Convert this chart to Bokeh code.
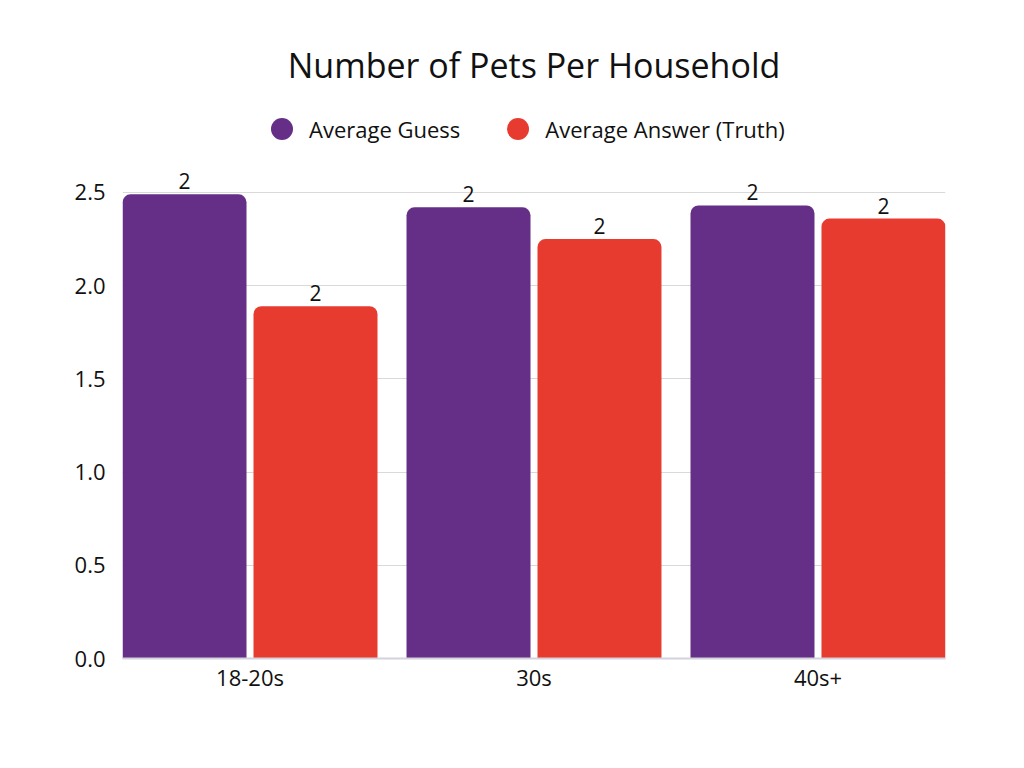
from bokeh.plotting import figure
from bokeh.models import (ColumnDataSource, Range1d, FixedTicker, Legend, LegendItem,
                          PrintfTickFormatter)
from bokeh.core.properties import value
from bokeh.embed import file_html
from bokeh.resources import INLINE

categories = ["18-20s", "30s", "40s+"]
avg_guess = [2.49, 2.42, 2.43]
avg_truth = [1.89, 2.25, 2.36]
y_ticks = [0.0, 0.5, 1.0, 1.5, 2.0, 2.5]
series_names = ["Average Guess", "Average Answer (Truth)"]
colors = ["#652F87", "#E83B30"]

FONT = "Open Sans"
xs = list(range(len(categories)))
bar_w = 0.4366
off = 0.2306

p = figure(frame_width=823, frame_height=563, output_backend="svg", toolbar_location=None,
           x_range=Range1d(-0.449, 2.449), y_range=Range1d(0, 3.02),
           min_border_left=122, min_border_right=71, min_border_bottom=100, min_border_top=95)
p.outline_line_color = None
p.background_fill_color = "white"

for vals, c, sgn in [(avg_guess, colors[0], -1), (avg_truth, colors[1], 1)]:
    src = ColumnDataSource(dict(x=[x + sgn * off for x in xs], top=vals,
                                lab=[f"{round(v)}" for v in vals]))
    p.vbar(x="x", top="top", width=bar_w, bottom=0, source=src, fill_color=c,
           line_color=None, border_radius=(8, 8, 0, 0))
    p.text(x="x", y="top", text="lab", source=src, text_align="center", text_baseline="bottom",
           y_offset=-5, text_font_size="21px", text_font=value(FONT), text_color="#111111")

p.yaxis.ticker = FixedTicker(ticks=y_ticks)
p.yaxis.formatter = PrintfTickFormatter(format="%.1f")
p.yaxis.axis_line_color = None
p.yaxis.major_tick_line_color = None
p.yaxis.minor_tick_line_color = None
p.yaxis.major_label_text_font = FONT
p.yaxis.major_label_text_font_size = "22px"
p.yaxis.major_label_text_color = "#111111"
p.yaxis.major_label_standoff = 11

p.xaxis.ticker = FixedTicker(ticks=xs)
p.xaxis.major_label_overrides = {i: c for i, c in enumerate(categories)}
p.xaxis.axis_line_color = "#d4d2dc"
p.xaxis.axis_line_width = 2
p.xaxis.major_tick_line_color = None
p.xaxis.minor_tick_line_color = None
p.xaxis.major_label_text_font = FONT
p.xaxis.major_label_text_font_size = "22px"
p.xaxis.major_label_text_color = "#111111"
p.xaxis.major_label_standoff = -3

p.xgrid.grid_line_color = None
p.ygrid.grid_line_color = "#d9d9d9"

r1 = p.scatter(x=[-10], y=[-10], marker="circle", size=22, fill_color=colors[0], line_color=None)
r2 = p.scatter(x=[-10], y=[-10], marker="circle", size=22, fill_color=colors[1], line_color=None)
legend = Legend(items=[LegendItem(label=series_names[0], renderers=[r1]),
                       LegendItem(label=series_names[1], renderers=[r2])],
                orientation="horizontal", location=(132, 502), border_line_color=None,
                background_fill_alpha=0,
                label_text_font=FONT, label_text_font_size="22px", label_text_color="#111111",
                glyph_width=55, glyph_height=55, spacing=30, label_standoff=-8,
                margin=0, padding=0)
p.add_layout(legend, "center")

p.title.text = "Number of Pets Per Household"
p.title.text_font = FONT
p.title.text_font_size = "34px"
p.title.text_font_style = "normal"
p.title.text_color = "#111111"
p.title.align = "center"
p.title.standoff = 15

open("out.html", "w").write(file_html(p, INLINE))
